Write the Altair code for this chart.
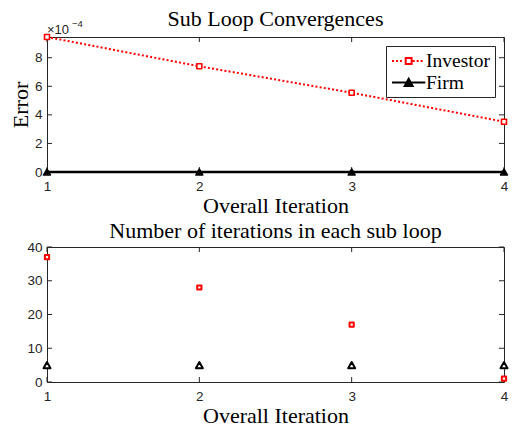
import altair as alt
import pandas as pd

# ---------------- data ----------------
iterations = [1, 2, 3, 4]
series = ["Investor", "Firm"]
investor_error = [9.45e-4, 7.40e-4, 5.55e-4, 3.52e-4]
firm_error = [0.0, 0.0, 0.0, 0.0]
investor_iters = [37, 28, 17, 1]
firm_iters = [5, 5, 5, 5]
x_ticks = [1, 2, 3, 4]
err_ticks = [0, 2e-4, 4e-4, 6e-4, 8e-4]
iter_ticks = [0, 10, 20, 30, 40]
title_top = "Sub Loop Convergences"
title_bottom = "Number of iterations in each sub loop"
x_title = "Overall Iteration"
y_title_top = "Error"
exp_base = "×10"
exp_power = "−4"

# ---------------- style ----------------
W, H = 457, 135
AX = "#262626"
SERIF = "Liberation Serif"
SANS = "Liberation Sans"
TICK = 5
TFONT = 22
JOIN = "round"


def dotted(x0, x1, dash=0.22, gap=0.22):
    s, x = "", x0
    while x + dash <= x1 + 1e-9:
        s += f"M{x:.2f},0H{x + dash:.2f}"
        x += dash + gap
    return s


inv_legend_top = (dotted(-1.0, 0.40) + "M0.52,-0.33H1.18V0.33H0.52Z" + dotted(1.30, 2.7))
firm_legend_top = "M-1,0H2.7M0.85,-0.42L1.29,0.38L0.41,0.38Z"
inv_legend_bot = "M0.60,-0.25H1.10V0.25H0.60Z"
firm_legend_bot = "M0.85,-0.40L1.27,0.34L0.43,0.34Z"


def make_legend(stroke_w):
    return alt.Legend(
        title=None, orient="top-right", offset=9, padding=5,
        strokeColor=AX, fillColor="white", cornerRadius=0,
        symbolSize=324, symbolStrokeWidth=stroke_w,
        labelFont=SERIF, labelFontSize=19.5, labelColor="black",
        labelOffset=15, rowPadding=1.5, labelLimit=200,
    )


def panel(inv_vals, firm_vals, y_domain, y_ticks, y_label_expr, y_title,
          title, top_panel, title_offset):
    inv_df = pd.DataFrame({"it": iterations, "v": inv_vals})
    firm_df = pd.DataFrame({"it": iterations, "v": firm_vals})
    both_df = pd.DataFrame({
        "it": iterations * 2,
        "v": list(inv_vals) + list(firm_vals),
        "s": [series[0]] * 4 + [series[1]] * 4,
    })
    xt_df = pd.DataFrame({"it": x_ticks})
    yt_df = pd.DataFrame({"v": y_ticks})

    x_enc = alt.X("it:Q", title=x_title,
                  scale=alt.Scale(domain=[1, 4], nice=False, zero=False),
                  axis=alt.Axis(values=x_ticks, format="d", labelFlush=False))
    y_axis = alt.Axis(values=y_ticks, labelExpr=y_label_expr)
    y_enc = alt.Y("v:Q", title=y_title,
                  scale=alt.Scale(domain=y_domain, nice=False, zero=False),
                  axis=y_axis)

    layers = []
    # inward ticks on all four sides
    tick = alt.Chart(xt_df).mark_rule(color=AX, strokeWidth=1)
    layers.append(tick.encode(x=x_enc, y=alt.value(H), y2=alt.value(H - TICK)))
    layers.append(tick.encode(x=x_enc, y=alt.value(0), y2=alt.value(TICK)))
    ytick = alt.Chart(yt_df).mark_rule(color=AX, strokeWidth=1)
    layers.append(ytick.encode(y=y_enc, x=alt.value(0), x2=alt.value(TICK)))
    layers.append(ytick.encode(y=y_enc, x=alt.value(W - TICK), x2=alt.value(W)))

    if top_panel:
        layers.append(alt.Chart(inv_df).mark_line(
            color="red", strokeDash=[2, 2.2], strokeWidth=2, strokeJoin=JOIN
        ).encode(x=x_enc, y=y_enc))
        layers.append(alt.Chart(firm_df).mark_line(
            color="black", strokeWidth=2.5, strokeJoin=JOIN
        ).encode(x=x_enc, y=y_enc))
        layers.append(alt.Chart(inv_df).mark_point(
            shape="square", size=25, stroke="red", strokeWidth=1.6, strokeJoin=JOIN,
            fill="white", fillOpacity=1, opacity=1, clip=False
        ).encode(x=x_enc, y=y_enc))
        layers.append(alt.Chart(firm_df).mark_point(
            shape="triangle-up", size=49, stroke="black", strokeWidth=1.5, strokeJoin=JOIN,
            fill="black", fillOpacity=1, opacity=1, clip=False
        ).encode(x=x_enc, y=y_enc))
        shapes = [inv_legend_top, firm_legend_top]
        fills = ["white", "black"]
    else:
        layers.append(alt.Chart(inv_df).mark_point(
            shape="square", size=18, stroke="red", strokeWidth=2, strokeJoin=JOIN,
            fill="white", fillOpacity=1, opacity=1, clip=False
        ).encode(x=x_enc, y=y_enc))
        layers.append(alt.Chart(firm_df).mark_point(
            shape="triangle-up", size=49, stroke="black", strokeWidth=2, strokeJoin=JOIN,
            fill="white", fillOpacity=1, opacity=1, clip=False
        ).encode(x=x_enc, y=y_enc))
        shapes = [inv_legend_bot, firm_legend_bot]
        fills = ["white", "white"]

    leg = make_legend(2)
    layers.append(alt.Chart(both_df).mark_point(
        size=0, opacity=1, fillOpacity=1, strokeJoin=JOIN
    ).encode(
        x=x_enc, y=y_enc,
        stroke=alt.Stroke("s:N", scale=alt.Scale(domain=series, range=["red", "black"]), legend=leg),
        fill=alt.Fill("s:N", scale=alt.Scale(domain=series, range=fills), legend=leg),
        shape=alt.Shape("s:N", scale=alt.Scale(domain=series, range=shapes), legend=leg),
    ))

    if top_panel:
        one = pd.DataFrame({"t": [exp_base]})
        layers.append(alt.Chart(one).mark_text(
            align="left", baseline="alphabetic", font=SANS, fontSize=13, color=AX
        ).encode(x=alt.value(0), y=alt.value(-3.5), text="t:N"))
        two = pd.DataFrame({"t": [exp_power]})
        layers.append(alt.Chart(two).mark_text(
            align="left", baseline="alphabetic", font=SANS, fontSize=9.5, color=AX
        ).encode(x=alt.value(25), y=alt.value(-10), text="t:N"))

    return alt.layer(*layers).properties(
        width=W, height=H,
        title=alt.TitleParams(title, font=SERIF, fontSize=TFONT, fontWeight="normal",
                              color="black", anchor="middle", frame="group",
                              offset=title_offset),
    )


top = panel(investor_error, firm_error, [0, 9.45e-4], err_ticks,
            "format(datum.value * 10000, 'd')", y_title_top, title_top, True, -12)
bottom = panel(investor_iters, firm_iters, [0, 40], iter_ticks,
               "datum.label", None, title_bottom, False, -3)

chart = alt.vconcat(top, bottom, spacing=2).properties(
    padding={"left": 0, "top": -1, "right": 0, "bottom": 0}
).configure_view(
    stroke=AX, strokeWidth=1
).configure_axis(
    ticks=False, domainColor=AX, domainWidth=1,
    labelFont=SANS, labelFontSize=13.5, labelColor=AX,
    titleFont=SERIF, titleFontSize=TFONT, titleFontWeight="normal", titleColor="black",
    grid=False,
).configure_axisX(
    labelPadding=7, titlePadding=3
).configure_axisY(
    labelPadding=5, titlePadding=2
)

chart.save("out.html", embed_options={"renderer": "svg", "actions": False})
